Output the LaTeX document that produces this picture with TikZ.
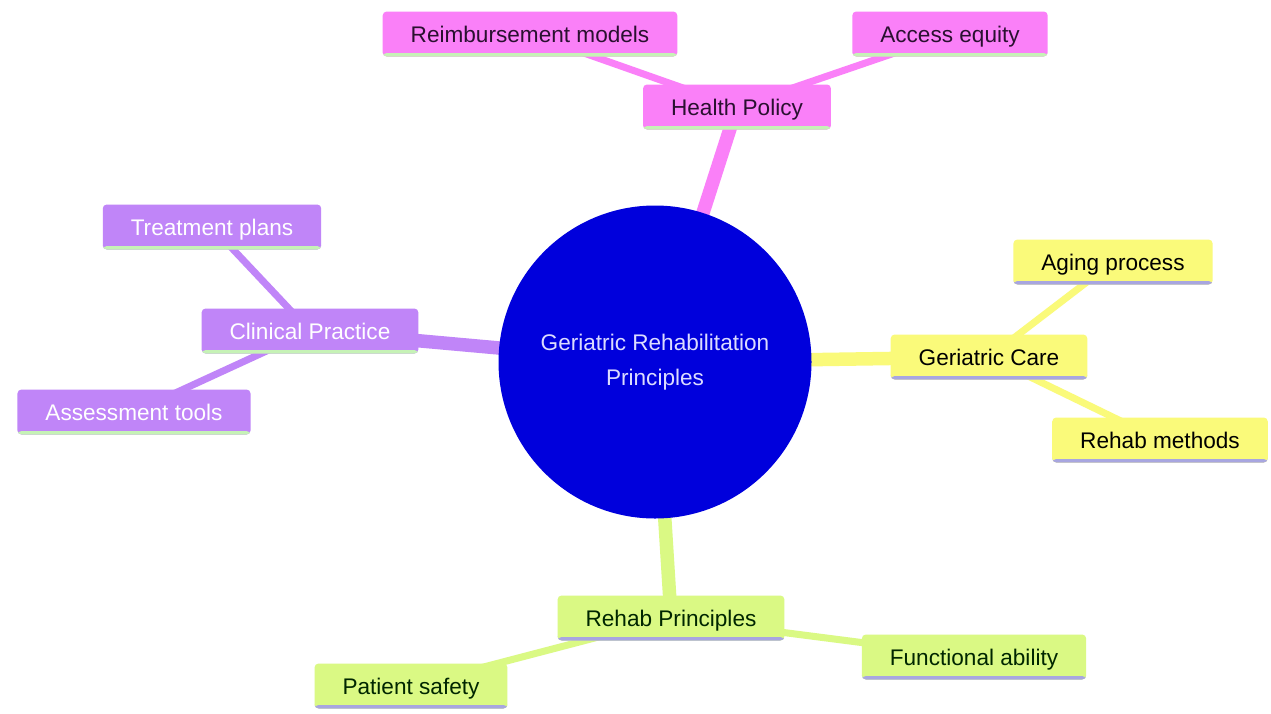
\documentclass[tikz,border=0pt]{standalone}
\usepackage{fontspec}
\setmainfont{Liberation Sans}
\usetikzlibrary{backgrounds}
\definecolor{rootc}{HTML}{0000DC}
\definecolor{roottext}{HTML}{DCDCFF}
\definecolor{pinkc}{HTML}{FA80F8}
\definecolor{purplec}{HTML}{C085F8}
\definecolor{yellowc}{HTML}{FAFA7A}
\definecolor{greenc}{HTML}{DAF984}
\definecolor{paleline}{HTML}{C6F2B6}
\definecolor{lavline}{HTML}{A8A6E0}
\definecolor{darktext}{HTML}{2A1030}
\tikzset{
  box/.style 2 args={rectangle, rounded corners=4pt, fill=#1, minimum height=45pt,
    inner xsep=28pt, inner ysep=0pt, font=\fontsize{22.6}{27}\selectfont,
    text height=19.5pt, text depth=2pt,
    path picture={\fill[#2] ([yshift=3.5pt]path picture bounding box.south west) rectangle (path picture bounding box.south east);}},
  pinkbox/.style={box={pinkc}{paleline}, text=darktext},
  purplebox/.style={box={purplec}{paleline}, text=white},
  yellowbox/.style={box={yellowc}{lavline}, text=black},
  greenbox/.style={box={greenc}{lavline}, text=black!85!green},
  mainedge/.style={draw=#1, line width=13.5pt},
  subedge/.style={draw=#1, line width=7pt},
  rootnode/.style={circle, fill=rootc, minimum size=313pt, inner sep=0pt, text=roottext,
    align=center, font=\fontsize{22.6}{35}\selectfont}
}
\begin{document}
\begin{tikzpicture}[x=1pt,y=-1pt]
\useasboundingbox (0,0) rectangle (1271,713);
\node[rootnode] (root) at (655,362) {Geriatric Rehabilitation\\Principles};
\node[pinkbox] (hp) at (737,107) {Health Policy};
\node[pinkbox] (rm) at (530,34) {Reimbursement models};
\node[pinkbox] (ae) at (950,34) {Access equity};
\node[yellowbox] (gc) at (989,357) {Geriatric Care};
\node[yellowbox] (ap) at (1113,262) {Aging process};
\node[yellowbox] (rme) at (1160,440) {Rehab methods};
\node[purplebox] (cp) at (310,331) {Clinical Practice};
\node[purplebox] (tp) at (212,227) {Treatment plans};
\node[purplebox] (at) at (134,412) {Assessment tools};
\node[greenbox] (rp) at (671,618) {Rehab Principles};
\node[greenbox] (fa) at (974,657) {Functional ability};
\node[greenbox] (ps) at (411,686) {Patient safety};
\begin{scope}[on background layer]
\fill[white] (0,0) rectangle (1271,713);
\draw[mainedge=pinkc] (root.center) -- (hp.center);
\draw[mainedge=yellowc] (root.center) -- (gc.center);
\draw[mainedge=purplec] (root.center) -- (cp.center);
\draw[mainedge=greenc] (root.center) -- (rp.center);
\draw[subedge=pinkc] (hp.center) -- (rm.center);
\draw[subedge=pinkc] (hp.center) -- (ae.center);
\draw[subedge=yellowc] (gc.center) -- (ap.center);
\draw[subedge=yellowc] (gc.center) -- (rme.center);
\draw[subedge=purplec] (cp.center) -- (tp.center);
\draw[subedge=purplec] (cp.center) -- (at.center);
\draw[subedge=greenc] (rp.center) -- (fa.center);
\draw[subedge=greenc] (rp.center) -- (ps.center);
\end{scope}
\end{tikzpicture}
\end{document}
